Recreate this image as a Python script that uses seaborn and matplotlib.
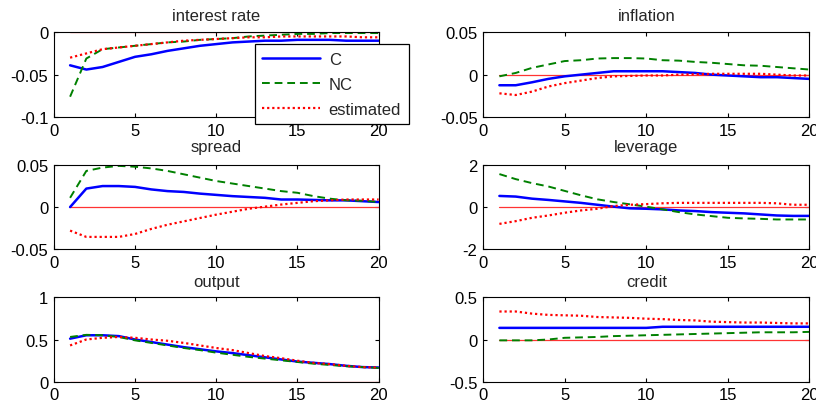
import matplotlib
matplotlib.use("Agg")
import matplotlib.pyplot as plt
import seaborn as sns
import numpy as np

# impulse horizon
periods = list(range(1, 21))

# interest rate
rate_c = [-0.039, -0.044, -0.041, -0.035, -0.029, -0.026, -0.022, -0.019, -0.016, -0.014,
          -0.012, -0.011, -0.010, -0.010, -0.009, -0.009, -0.009, -0.010, -0.010, -0.010]
rate_nc = [-0.076, -0.031, -0.020, -0.018, -0.016, -0.014, -0.012, -0.011, -0.009, -0.008,
           -0.007, -0.005, -0.004, -0.003, -0.002, -0.002, -0.001, -0.001, -0.001, -0.001]
rate_est = [-0.030, -0.025, -0.020, -0.018, -0.016, -0.014, -0.012, -0.010, -0.009, -0.008,
            -0.007, -0.006, -0.006, -0.005, -0.005, -0.005, -0.005, -0.005, -0.006, -0.006]

# inflation
infl_c = [-0.0125, -0.0125, -0.009, -0.005, -0.002, 0.0, 0.002, 0.004, 0.004, 0.004,
          0.004, 0.003, 0.002, 0.0, -0.001, -0.002, -0.003, -0.003, -0.004, -0.005]
infl_nc = [-0.002, 0.002, 0.008, 0.012, 0.016, 0.017, 0.019, 0.0195, 0.0195, 0.019,
           0.017, 0.0165, 0.015, 0.014, 0.0125, 0.011, 0.0105, 0.009, 0.0075, 0.006]
infl_est = [-0.022, -0.024, -0.020, -0.014, -0.010, -0.007, -0.004, -0.002, -0.0015, -0.001,
            -0.001, 0.0, 0.0005, 0.001, 0.001, 0.001, 0.001, 0.0, -0.001, -0.001]

# spread
spread_c = [0.0, 0.022, 0.025, 0.025, 0.024, 0.021, 0.019, 0.018, 0.016, 0.0145,
            0.013, 0.012, 0.011, 0.009, 0.009, 0.0085, 0.008, 0.008, 0.007, 0.006]
spread_nc = [0.011, 0.043, 0.047, 0.049, 0.048, 0.046, 0.043, 0.039, 0.035, 0.031,
             0.028, 0.025, 0.022, 0.019, 0.017, 0.013, 0.010, 0.008, 0.0075, 0.006]
spread_est = [-0.028, -0.0355, -0.0355, -0.0355, -0.032, -0.026, -0.021, -0.017, -0.013, -0.009,
              -0.0055, -0.002, 0.0005, 0.003, 0.005, 0.007, 0.008, 0.009, 0.009, 0.009]

# leverage
lev_c = [0.53, 0.50, 0.40, 0.34, 0.27, 0.20, 0.11, 0.02, -0.06, -0.08,
         -0.11, -0.16, -0.19, -0.24, -0.27, -0.30, -0.35, -0.40, -0.42, -0.42]
lev_nc = [1.57, 1.33, 1.14, 0.98, 0.77, 0.56, 0.37, 0.24, 0.13, 0.02,
          -0.11, -0.24, -0.35, -0.43, -0.51, -0.54, -0.56, -0.59, -0.59, -0.59]
lev_est = [-0.80, -0.67, -0.51, -0.40, -0.27, -0.16, -0.08, 0.05, 0.11, 0.14,
           0.18, 0.20, 0.20, 0.20, 0.20, 0.20, 0.20, 0.18, 0.11, 0.11]

# output
out_c = [0.51, 0.55, 0.55, 0.54, 0.50, 0.47, 0.44, 0.41, 0.385, 0.36,
         0.34, 0.315, 0.29, 0.265, 0.24, 0.225, 0.21, 0.19, 0.175, 0.17]
out_nc = [0.53, 0.555, 0.55, 0.53, 0.49, 0.46, 0.43, 0.40, 0.375, 0.345,
          0.32, 0.295, 0.275, 0.255, 0.235, 0.215, 0.20, 0.185, 0.175, 0.165]
out_est = [0.43, 0.50, 0.52, 0.53, 0.52, 0.50, 0.485, 0.46, 0.43, 0.40,
           0.375, 0.34, 0.305, 0.28, 0.25, 0.225, 0.21, 0.19, 0.175, 0.17]

# credit
cred_c = [0.137, 0.137, 0.137, 0.137, 0.137, 0.137, 0.137, 0.137, 0.137, 0.137,
          0.15, 0.15, 0.15, 0.15, 0.15, 0.15, 0.15, 0.15, 0.15, 0.15]
cred_nc = [-0.01, -0.01, -0.01, 0.0, 0.02, 0.025, 0.03, 0.04, 0.045, 0.05,
           0.055, 0.06, 0.065, 0.07, 0.075, 0.08, 0.085, 0.085, 0.085, 0.09]
cred_est = [0.33, 0.33, 0.305, 0.29, 0.285, 0.28, 0.265, 0.26, 0.255, 0.245,
            0.24, 0.23, 0.225, 0.21, 0.205, 0.20, 0.20, 0.195, 0.19, 0.19]

titles = ["interest rate", "inflation", "spread", "leverage", "output", "credit"]
series = [(rate_c, rate_nc, rate_est), (infl_c, infl_nc, infl_est),
          (spread_c, spread_nc, spread_est), (lev_c, lev_nc, lev_est),
          (out_c, out_nc, out_est), (cred_c, cred_nc, cred_est)]
yticks = [[-0.1, -0.05, 0], [-0.05, 0, 0.05], [-0.05, 0, 0.05],
          [-2, 0, 2], [0, 0.5, 1], [-0.5, 0, 0.5]]
ytick_labels = [["-0.1", "-0.05", "0"], ["-0.05", "0", "0.05"], ["-0.05", "0", "0.05"],
                ["-2", "0", "2"], ["0", "0.5", "1"], ["-0.5", "0", "0.5"]]
xticks = [0, 5, 10, 15, 20]
labels = ["C", "NC", "estimated"]

sns.set_style("ticks")
plt.rcParams["font.family"] = ["Liberation Sans", "DejaVu Sans"]
plt.rcParams["xtick.direction"] = "in"
plt.rcParams["ytick.direction"] = "in"

fig = plt.figure(figsize=(8.16, 4.10), dpi=100)

# axes boxes in figure fractions (left, bottom, width, height)
col_x = [0.066, 0.592]
col_w = [0.398, 0.400]
row_y = [0.712, 0.390, 0.066]
row_h = [0.207, 0.205, 0.207]
title_pad = [9, 10, 8]

axes = []
for i in range(6):
    r, c = divmod(i, 2)
    ax = fig.add_axes([col_x[c], row_y[r], col_w[c], row_h[r]])
    axes.append(ax)
    c_vals, nc_vals, est_vals = series[i]

    # zero reference line
    sns.lineplot(x=periods, y=[0] * len(periods), ax=ax, color="#ff3333", lw=0.9)
    sns.lineplot(x=periods, y=c_vals, ax=ax, color="#0000ff", lw=1.8, label=labels[0])
    sns.lineplot(x=periods, y=nc_vals, ax=ax, color="#008000", lw=1.4,
                 linestyle=(0, (4, 2.5)), label=labels[1])
    sns.lineplot(x=periods, y=est_vals, ax=ax, color="#ff0000", lw=1.6,
                 linestyle=(0, (1, 1.3)), label=labels[2])

    ax.set_xlim(0, 20)
    ax.set_ylim(yticks[i][0], yticks[i][-1])
    ax.set_xticks(xticks)
    ax.set_xticklabels([str(t) for t in xticks])
    ax.set_yticks(yticks[i])
    ax.set_yticklabels(ytick_labels[i])
    ax.tick_params(axis="both", which="both", top=True, right=True, length=3,
                   width=0.8, labelsize=12, colors="black")
    ax.tick_params(axis="x", pad=4)
    ax.tick_params(axis="y", pad=4)
    for sp in ax.spines.values():
        sp.set_visible(True)
        sp.set_color("black")
        sp.set_linewidth(0.8)
    ax.set_title(titles[i], fontsize=12, pad=title_pad[r])
    ax.set_xlabel("")
    ax.set_ylabel("")
    if i == 0:
        leg = ax.legend(loc="upper left", bbox_to_anchor=(0.618, 0.86), borderaxespad=0,
                        fontsize=12, handlelength=3.5, handletextpad=0.5,
                        labelspacing=0.6, borderpad=0.45, fancybox=False,
                        framealpha=1, edgecolor="black")
        leg.get_frame().set_linewidth(0.9)
        leg.set_zorder(10)
    else:
        ax.get_legend().remove()

fig.savefig("out.png", dpi=100)
